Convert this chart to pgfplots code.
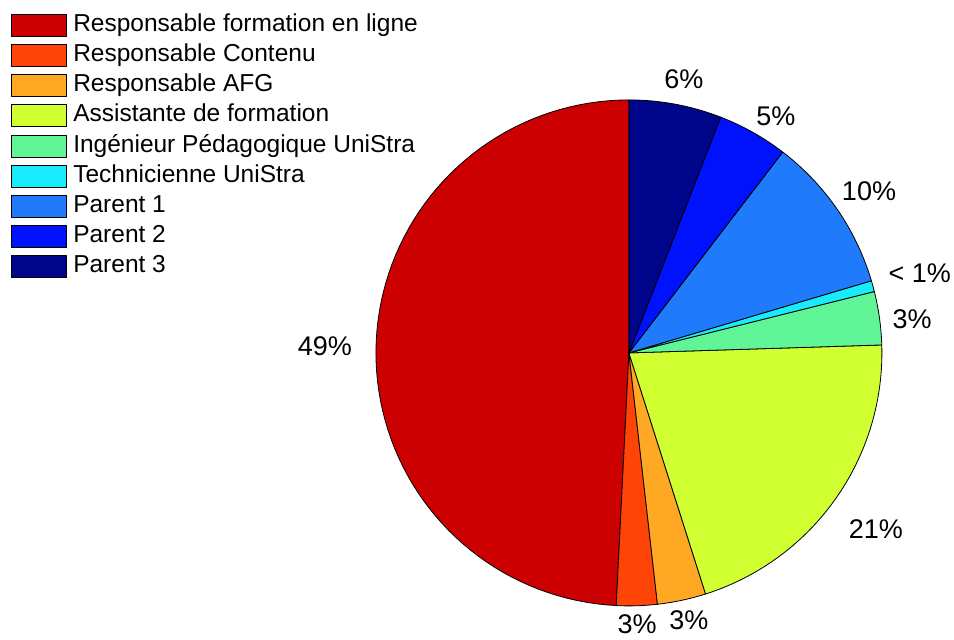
\documentclass[border=0pt]{standalone}
\usepackage{pgfplots}
\pgfplotsset{compat=1.18}
\usepackage{fontspec}
\setmainfont{Liberation Sans}

% slice colours
\definecolor{cFormation}{RGB}{204,0,0}
\definecolor{cContenu}{RGB}{255,68,8}
\definecolor{cAFG}{RGB}{255,168,36}
\definecolor{cAssistante}{RGB}{208,255,50}
\definecolor{cIngenieur}{RGB}{96,245,150}
\definecolor{cTechnicienne}{RGB}{24,236,252}
\definecolor{cParentA}{RGB}{32,122,252}
\definecolor{cParentB}{RGB}{0,18,252}
\definecolor{cParentC}{RGB}{0,6,140}

% shares in percent, in drawing order (counter-clockwise from the top)
\def\vFormation{49.2}
\def\vContenu{2.6}
\def\vAFG{3.1}
\def\vAssistante{20.6}
\def\vIngenieur{3.4}
\def\vTechnicienne{0.7}
\def\vParentA{10.0}
\def\vParentB{4.5}
\def\vParentC{5.9}

% cumulative boundary angles
\pgfmathsetmacro\aA{90}
\pgfmathsetmacro\aB{\aA+3.6*\vFormation}
\pgfmathsetmacro\aC{\aB+3.6*\vContenu}
\pgfmathsetmacro\aD{\aC+3.6*\vAFG}
\pgfmathsetmacro\aE{\aD+3.6*\vAssistante}
\pgfmathsetmacro\aF{\aE+3.6*\vIngenieur}
\pgfmathsetmacro\aG{\aF+3.6*\vTechnicienne}
\pgfmathsetmacro\aH{\aG+3.6*\vParentA}
\pgfmathsetmacro\aI{\aH+3.6*\vParentB}
\pgfmathsetmacro\aJ{\aI+3.6*\vParentC}

% one wedge of unit radius between two angles
\newcommand\slice[3]{%
  \addplot[fill=#3, draw=black, line width=0.4pt, line join=round,
    domain=#1:#2, samples=80, variable=\t]
    ({cos(\t)},{sin(\t)}) -- (axis cs:0,0) -- cycle;}

\begin{document}
\begin{tikzpicture}
\begin{axis}[
  hide axis,
  x=126.5pt, y=126.5pt,
  xmin=-2.486, xmax=1.285,
  ymin=-1.134, ymax=1.395,
  clip=false,
  legend image code/.code={%
    \draw[#1, draw=black, line width=0.5pt] (0pt,-5.5pt) rectangle (27.5pt,5.5pt);},
  legend cell align=left,
  legend style={
    at={(axis cs:-2.443,1.344)}, anchor=north west,
    draw=none, fill=none, inner sep=0pt,
    row sep=3.1pt, column sep=3pt,
    font=\fontsize{12.25}{15}\selectfont,
    nodes={inner sep=0pt, text height=9pt, text depth=3pt},
  },
]
\slice{\aA}{\aB}{cFormation}
\addlegendentry{Responsable formation en ligne}
\slice{\aB}{\aC}{cContenu}
\addlegendentry{Responsable Contenu}
\slice{\aC}{\aD}{cAFG}
\addlegendentry{Responsable AFG}
\slice{\aD}{\aE}{cAssistante}
\addlegendentry{Assistante de formation}
\slice{\aE}{\aF}{cIngenieur}
\addlegendentry{Ingénieur Pédagogique UniStra}
\slice{\aF}{\aG}{cTechnicienne}
\addlegendentry{Technicienne UniStra}
\slice{\aG}{\aH}{cParentA}
\addlegendentry{Parent 1}
\slice{\aH}{\aI}{cParentB}
\addlegendentry{Parent 2}
\slice{\aI}{\aJ}{cParentC}
\addlegendentry{Parent 3}

% percentage labels
\begin{scope}[every node/.style={font=\fontsize{13.5}{15}\selectfont, inner sep=0pt}]
\node at (axis cs:-1.202,0.028) {49\%};
\node at (axis cs:0.032,-1.074) {3\%};
\node at (axis cs:0.237,-1.058) {3\%};
\node at (axis cs:0.976,-0.696) {21\%};
\node at (axis cs:1.119,0.134) {3\%};
\node at (axis cs:1.150,0.316) {< 1\%};
\node at (axis cs:0.949,0.640) {10\%};
\node at (axis cs:0.581,0.937) {5\%};
\node at (axis cs:0.217,1.083) {6\%};
\end{scope}
\end{axis}
\pgfresetboundingbox
\useasboundingbox (current axis.south west) rectangle (current axis.north east);
\end{tikzpicture}
\end{document}
